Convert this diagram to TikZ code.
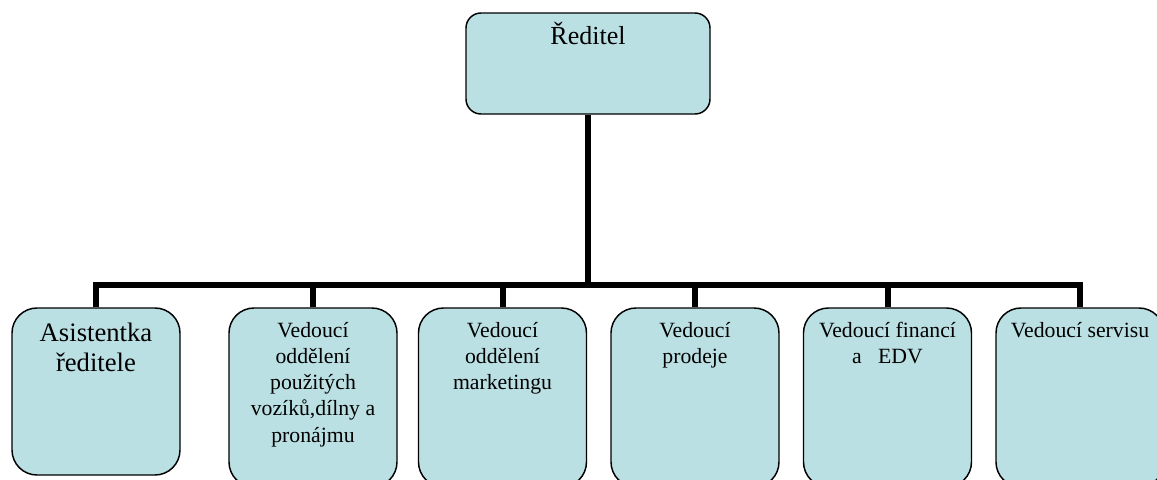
\documentclass[tikz,border=0pt]{standalone}
\usepackage{fontspec}
\setmainfont{Liberation Serif}
\definecolor{boxfill}{HTML}{BBE0E3}
% invisible strut fixing the height of a title's first line
\newcommand{\firstline}[1]{\rule{0pt}{#1}}
\begin{document}
\begin{tikzpicture}[x=0.75pt,y=-0.75pt,
  box/.style={draw=black,line width=1.1pt,fill=boxfill,rectangle,inner sep=0pt},
  topbox/.style={box,rounded corners=11.25pt,minimum width=183pt,minimum height=75.75pt},
  unitbox/.style={box,rounded corners=18.75pt,minimum width=126pt,minimum height=134.25pt},
  asstbox/.style={unitbox,minimum height=125.25pt},
  lbl/.style={anchor=north,align=center,inner sep=0pt,
    font=\fontsize{16.3pt}{19.6pt}\selectfont},
  biglbl/.style={lbl,font=\fontsize{20pt}{22.5pt}\selectfont},
  toplbl/.style={anchor=base,inner sep=0pt,font=\fontsize{19.5pt}{22pt}\selectfont},
  link/.style={line width=4.5pt,black}]
\useasboundingbox (0,0) rectangle (1157,479);
\clip (0,0) rectangle (1157,479);

% director
\node[topbox] (dir) at (588,63.5) {};
\node[toplbl] (dirt) at (588,44) {Ředitel};

% branch point of the connector tree
\coordinate (hub) at (588,285);

% subordinate units
\node[asstbox] (b1) at (96,391.5) {};
\node[unitbox] (b2) at (313,397.5) {};
\node[unitbox] (b3) at (502.5,397.5) {};
\node[unitbox] (b4) at (695,397.5) {};
\node[unitbox] (b5) at (887.5,397.5) {};
\node[unitbox] (b6) at (1080,397.5) {};

% connectors
\draw[link] (dir.south) -- (hub);
\draw[link] (b1.north) |- (hub);
\draw[link] (b2.north) |- (hub);
\draw[link] (b3.north) |- (hub);
\draw[link] (b4.north) |- (hub);
\draw[link] (b5.north) |- (hub);
\draw[link] (b6.north) |- (hub);

% unit titles
\node[biglbl] (t1) at ([yshift=-9.5pt]b1.north) {\firstline{16pt}Asistentka\\ředitele};
\node[lbl] (t2) at ([yshift=-9.5pt]b2.north) {\firstline{13pt}Vedoucí\\oddělení\\použitých\\vozíků,dílny a\\pronájmu};
\node[lbl] (t3) at ([yshift=-9.5pt]b3.north) {\firstline{13pt}Vedoucí\\oddělení\\marketingu};
\node[lbl] (t4) at ([yshift=-9.5pt]b4.north) {\firstline{13pt}Vedoucí\\prodeje};
\node[lbl] (t5) at ([yshift=-9.5pt]b5.north) {\firstline{13pt}Vedoucí financí\\a\ \ \ EDV};
\node[lbl] (t6) at ([yshift=-9.5pt]b6.north) {\firstline{13pt}Vedoucí servisu};
\end{tikzpicture}
\end{document}
